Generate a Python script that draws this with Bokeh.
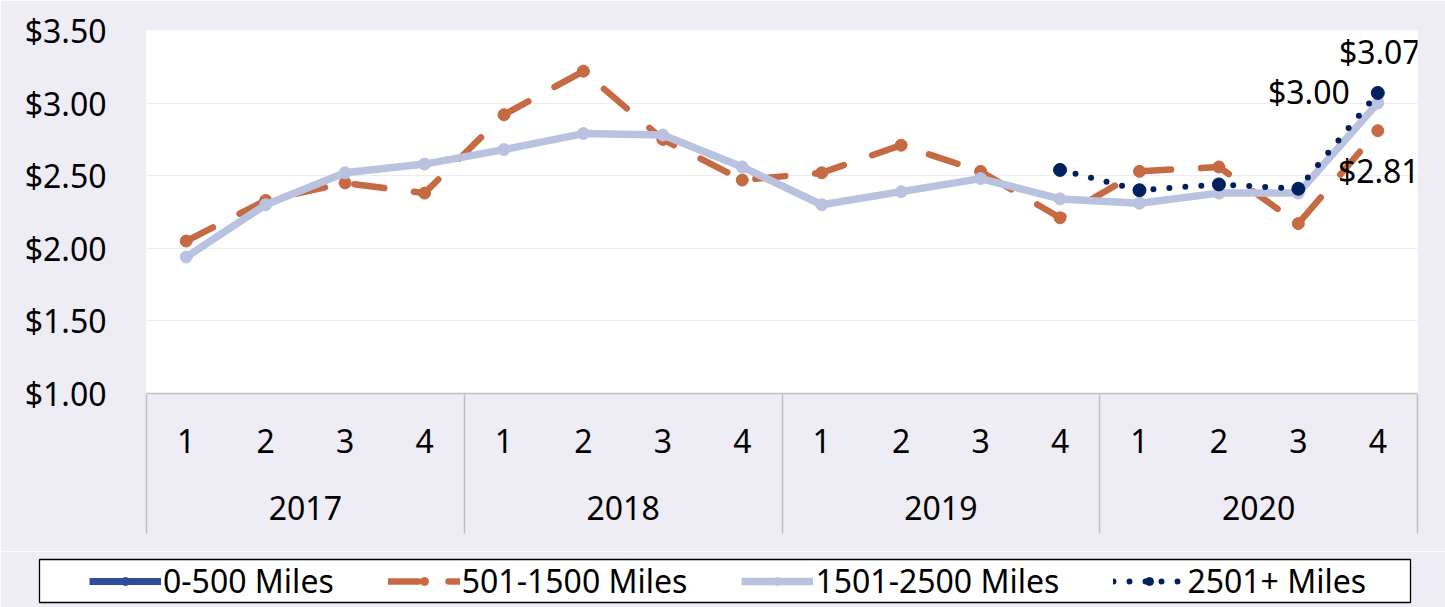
import numpy as np
from bokeh.plotting import figure
from bokeh.models import (Range1d, FixedTicker, NumeralTickFormatter, LinearAxis,
                          CustomJSTickFormatter, ColumnDataSource, Legend, LegendItem)
from bokeh.layouts import column
from bokeh.core.properties import value
from bokeh.embed import file_html
from bokeh.resources import INLINE

nan = np.nan

# ---------------- data ----------------
years = ["2017", "2018", "2019", "2020"]
quarters = ["1", "2", "3", "4"]
series_names = ["0-500 Miles", "501-1500 Miles", "1501-2500 Miles", "2501+ Miles"]

miles_0_500 = [nan, nan, nan, nan, nan, nan, nan, nan,
               nan, nan, nan, nan, nan, nan, nan, nan]
miles_501_1500 = [2.05, 2.33, 2.45, 2.38, 2.92, 3.22, 2.75, 2.47,
                  2.52, 2.71, 2.53, 2.21, 2.53, 2.56, 2.17, 2.81]
miles_1501_2500 = [1.94, 2.30, 2.52, 2.58, 2.68, 2.79, 2.78, 2.56,
                   2.30, 2.39, 2.48, 2.34, 2.31, 2.38, 2.38, 3.00]
miles_2501_plus = [nan, nan, nan, nan, nan, nan, nan, nan,
                   nan, nan, nan, 2.54, 2.40, 2.44, 2.41, 3.07]

y_ticks = [1.00, 1.50, 2.00, 2.50, 3.00, 3.50]

# ---------------- styles ----------------
BG = "#EEEDF6"
C_BLUE = "#2F4B9C"
C_ORANGE = "#C66A43"
C_LAV = "#B9C3E0"
C_NAVY = "#002060"
AXIS_GREY = "#BFBFBF"
FONT = "Noto Sans"
FSIZE = "32px"

# category slots: one per (year, quarter), centred in its slot
quarter_labels = [q for y in years for q in quarters]
n = len(quarter_labels)
x_pos = [i + 0.5 for i in range(n)]
group_centres = [(k + 0.5) * len(quarters) for k in range(len(years))]
group_bounds = [k * len(quarters) for k in range(len(years) + 1)]

src = ColumnDataSource(dict(x=x_pos, a=miles_0_500, b=miles_501_1500,
                            c=miles_1501_2500, d=miles_2501_plus))

p = figure(x_range=Range1d(0, n), y_range=Range1d(y_ticks[0], y_ticks[-1]),
           width=1445, height=551, output_backend="svg", toolbar_location=None,
           min_border_left=146, min_border_right=28, min_border_top=30,
           min_border_bottom=158, background_fill_color="white",
           border_fill_color=BG, outline_line_color=None)

# series (drawing order: blue, orange, lavender, navy)
p.line("x", "a", source=src, line_color=C_BLUE, line_width=7)
p.scatter("x", "a", source=src, size=12, color=C_BLUE)
p.line("x", "b", source=src, line_color=C_ORANGE, line_width=6.5,
       line_dash="30 30", line_cap="round")
p.scatter("x", "b", source=src, size=12, color=C_ORANGE)
p.line("x", "c", source=src, line_color=C_LAV, line_width=7.5, line_join="round")
p.scatter("x", "c", source=src, size=12, color=C_LAV)
p.line("x", "d", source=src, line_color=C_NAVY, line_width=6,
       line_dash="0 16", line_cap="round")
p.scatter("x", "d", source=src, size=13, color=C_NAVY)

# data labels on last points
last_x = x_pos[-1]
p.text(x=[last_x], y=[miles_2501_plus[-1]], text=["$%.2f" % miles_2501_plus[-1]],
       text_font=value(FONT), text_font_size=value(FSIZE), text_color="black",
       text_align="center", text_baseline="alphabetic", x_offset=2, y_offset=-41)
p.text(x=[last_x], y=[miles_1501_2500[-1]], text=["$%.2f" % miles_1501_2500[-1]],
       text_font=value(FONT), text_font_size=value(FSIZE), text_color="black",
       text_align="right", text_baseline="alphabetic", x_offset=-28, y_offset=-12)
p.text(x=[last_x], y=[miles_501_1500[-1]], text=["$%.2f" % miles_501_1500[-1]],
       text_font=value(FONT), text_font_size=value(FSIZE), text_color="black",
       text_align="center", text_baseline="alphabetic", x_offset=1, y_offset=40)

# y axis
yax = p.yaxis[0]
yax.ticker = FixedTicker(ticks=y_ticks)
yax.formatter = NumeralTickFormatter(format="$0.00")
yax.axis_line_color = None
yax.major_tick_line_color = None
yax.minor_tick_line_color = None
yax.major_label_standoff = 34
yax.major_label_text_font = FONT
yax.major_label_text_font_size = FSIZE
yax.major_label_text_color = "black"

p.ygrid.ticker = FixedTicker(ticks=y_ticks)
p.ygrid.grid_line_color = "#EDEDED"
p.ygrid.grid_line_width = 1
p.xgrid.grid_line_color = None

# quarter labels (first level)
qax = p.xaxis[0]
qax.ticker = FixedTicker(ticks=x_pos)
qax.formatter = CustomJSTickFormatter(args=dict(labels=quarter_labels),
                                      code="return labels[Math.floor(tick)];")
qax.axis_line_color = AXIS_GREY
qax.axis_line_width = 1.5
qax.major_tick_line_color = None
qax.major_tick_out = 0
qax.major_tick_in = 0
qax.minor_tick_line_color = None
qax.major_label_standoff = 35
qax.major_label_text_font = FONT
qax.major_label_text_font_size = FSIZE
qax.major_label_text_color = "black"

# year labels (second level)
yrax = LinearAxis(ticker=FixedTicker(ticks=group_centres),
                  formatter=CustomJSTickFormatter(
                      args=dict(labels=years, per=len(quarters)),
                      code="return labels[Math.floor(tick / per)];"),
                  axis_line_color=None, major_tick_line_color=None,
                  major_tick_out=0, major_tick_in=0, minor_tick_line_color=None,
                  major_label_standoff=40, major_label_text_font=FONT,
                  major_label_text_font_size=FSIZE, major_label_text_color="black")
p.add_layout(yrax, "below")

# year separators: label-less axis whose minor ticks run up to the category axis line
sep = LinearAxis(ticker=FixedTicker(ticks=[], minor_ticks=group_bounds),
                 axis_line_color=None, major_tick_line_color=None,
                 major_tick_in=0, major_tick_out=0,
                 minor_tick_line_color=AXIS_GREY, minor_tick_line_width=1.5,
                 minor_tick_in=128, minor_tick_out=11)
p.add_layout(sep, "below")

# ---------------- legend (boxed strip below) ----------------
leg = figure(width=1445, height=56, x_range=Range1d(0, n),
             y_range=Range1d(y_ticks[0], y_ticks[-1]),
             x_axis_type=None, y_axis_type=None,
             toolbar_location=None, output_backend="svg",
             min_border_left=39, min_border_right=35, min_border_top=8,
             min_border_bottom=5, background_fill_color="white",
             border_fill_color=BG, outline_line_color="black",
             outline_line_width=1.3)
if "frame_align" in leg.properties():
    leg.frame_align = False
    p.frame_align = False

# legend keys share the series data but are not drawn in the strip itself
proxy = [
    (leg.line("x", "a", source=src, line_color=C_BLUE, line_width=7, visible=False),
     leg.scatter("x", "a", source=src, size=12, color=C_BLUE, visible=False)),
    (leg.line("x", "b", source=src, line_color=C_ORANGE, line_width=6.5,
              line_dash="30 30", line_cap="round", visible=False),
     leg.scatter("x", "b", source=src, size=12, color=C_ORANGE, visible=False)),
    (leg.line("x", "c", source=src, line_color=C_LAV, line_width=7.5, visible=False),
     leg.scatter("x", "c", source=src, size=12, color=C_LAV, visible=False)),
    (leg.line("x", "d", source=src, line_color=C_NAVY, line_width=6,
              line_dash="0 16", line_cap="round", visible=False),
     leg.scatter("x", "d", source=src, size=13, color=C_NAVY, visible=False)),
]
items = [LegendItem(label=nm, renderers=list(r)) for nm, r in zip(series_names, proxy)]
legend = Legend(items=items, orientation="horizontal", location=(50, 0),
                glyph_width=72, glyph_height=20, label_standoff=2, spacing=54,
                padding=0, margin=0, border_line_color=None,
                background_fill_alpha=0, label_text_font=FONT,
                label_text_font_size=FSIZE, label_text_color="black")
leg.add_layout(legend)

layout = column(p, leg, spacing=0)

with open("out.html", "w") as f:
    f.write(file_html(layout, INLINE))
